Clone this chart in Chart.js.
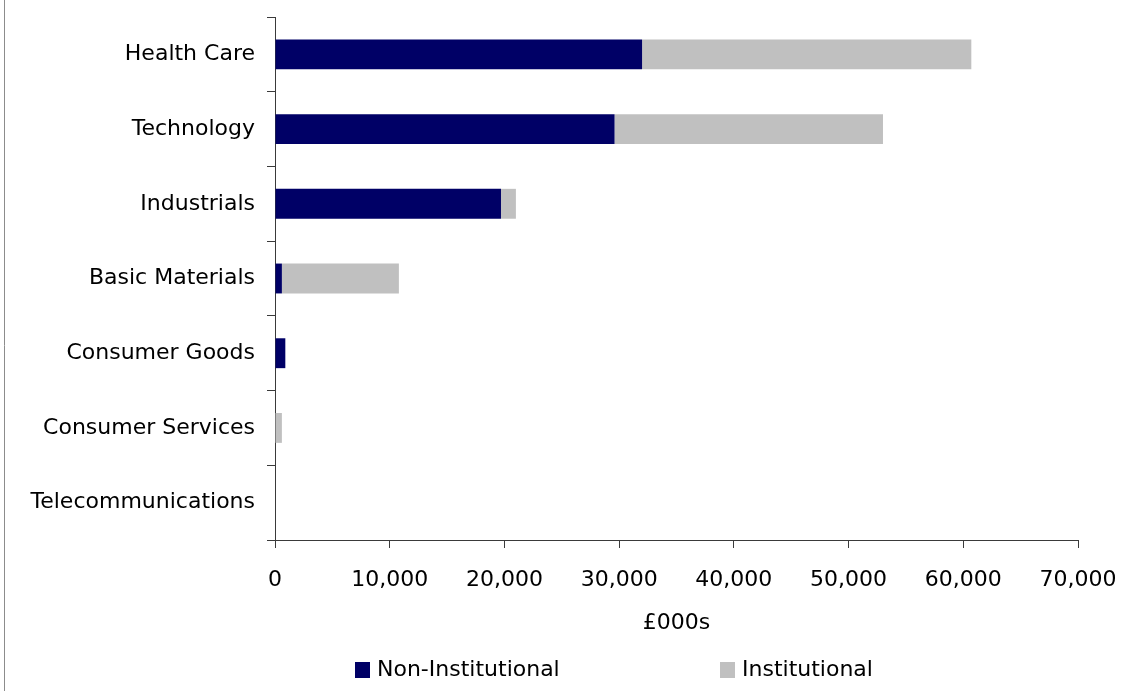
<!DOCTYPE html>
<html>
<head>
<meta charset="utf-8">
<title>Investment by sector</title>
<script src="https://cdn.jsdelivr.net/npm/chart.js@4"></script>
<style>
  html, body { margin: 0; padding: 0; background: #ffffff; }
  canvas { display: block; }
</style>
</head>
<body>
<canvas id="chart" width="1130" height="691"></canvas>
<script>
// Sectors, top to bottom
const sectors = ['Health Care', 'Technology', 'Industrials', 'Basic Materials',
                 'Consumer Goods', 'Consumer Services', 'Telecommunications'];
// Amounts in £000s
const nonInstitutional = [32000, 29600, 19700, 600, 900, 0, 0];
const institutional    = [28700, 23400, 1300, 10200, 0, 600, 0];
const seriesNames = ['Non-Institutional', 'Institutional'];
const axisTitle = '£000s';
const xMin = 0, xMax = 70000, xStep = 10000;

const FONT = '"DejaVu Sans", Verdana, sans-serif';
const AXIS_COLOR = '#3a3a3a';

// Thin frame line down the left edge of the canvas
const framePlugin = {
  id: 'frameLine',
  afterDraw(chart) {
    const ctx = chart.ctx;
    ctx.save();
    ctx.strokeStyle = '#8c8c8c';
    ctx.lineWidth = 1;
    ctx.beginPath();
    ctx.moveTo(4.5, 0);
    ctx.lineTo(4.5, chart.height);
    ctx.stroke();
    ctx.restore();
  }
};

// Legend row with wide spacing between the two entries
const legendRow = {
  id: 'legendRow',
  afterDraw(chart, args, opts) {
    const ctx = chart.ctx;
    ctx.save();
    ctx.font = opts.fontSize + 'px ' + FONT;
    ctx.textBaseline = 'middle';
    ctx.textAlign = 'left';
    chart.data.datasets.forEach((ds, i) => {
      const x = opts.xs[i];
      ctx.fillStyle = ds.backgroundColor;
      ctx.fillRect(x, opts.y - opts.box / 2, opts.boxW, opts.box);
      ctx.fillStyle = '#000000';
      ctx.fillText(ds.label, x + opts.boxW + 7, opts.y);
    });
    ctx.restore();
  }
};

// Keep the plot area fixed by the layout padding alone
function noEdgePadding(scale) {
  scale.paddingTop = 0;
  scale.paddingBottom = 0;
  scale.paddingLeft = 0;
  scale.paddingRight = 0;
}

new Chart(document.getElementById('chart'), {
  type: 'bar',
  data: {
    labels: sectors,
    datasets: [
      { label: seriesNames[0], data: nonInstitutional, backgroundColor: '#000066' },
      { label: seriesNames[1], data: institutional, backgroundColor: '#C0C0C0' }
    ]
  },
  options: {
    indexAxis: 'y',
    responsive: false,
    animation: false,
    devicePixelRatio: 1,
    categoryPercentage: 1.0,
    barPercentage: 0.4,
    layout: { padding: { top: 17, right: 52, left: 0, bottom: 45 } },
    plugins: {
      legend: { display: false },
      tooltip: { enabled: false },
      legendRow: { xs: [355, 720], y: 670, box: 16, boxW: 15, fontSize: 22 }
    },
    scales: {
      y: {
        type: 'category',
        stacked: true,
        offset: true,
        grid: { offset: true, drawOnChartArea: false, drawTicks: true, tickLength: 8, color: AXIS_COLOR },
        border: { display: true, color: AXIS_COLOR, width: 1 },
        ticks: { color: '#000000', font: { family: FONT, size: 22 }, padding: 12, autoSkip: false },
        afterFit(scale) { scale.width = 275; noEdgePadding(scale); }
      },
      x: {
        type: 'linear',
        stacked: true,
        min: xMin,
        max: xMax,
        grid: { drawOnChartArea: false, drawTicks: true, tickLength: 8, color: AXIS_COLOR },
        border: { display: true, color: AXIS_COLOR, width: 1 },
        ticks: {
          stepSize: xStep,
          color: '#000000',
          font: { family: FONT, size: 22 },
          padding: 19,
          maxRotation: 0,
          callback: v => v.toLocaleString('en-US')
        },
        title: {
          display: true,
          text: axisTitle,
          color: '#000000',
          font: { family: FONT, size: 22 },
          padding: { top: 0, bottom: 10 }
        },
        afterFit(scale) { scale.height = 106; noEdgePadding(scale); }
      }
    }
  },
  plugins: [framePlugin, legendRow]
});
</script>
</body>
</html>
